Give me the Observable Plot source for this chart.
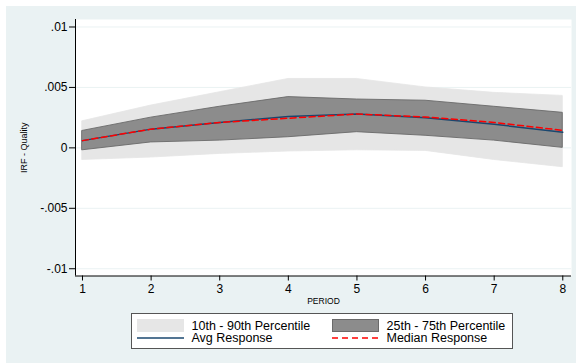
<!DOCTYPE html>
<html>
<head>
<meta charset="utf-8">
<script src="https://cdn.jsdelivr.net/npm/d3@7"></script>
<script src="https://cdn.jsdelivr.net/npm/@observablehq/plot@0.6"></script>
<style>
  html, body { margin: 0; padding: 0; background: #ffffff; }
  body { width: 576px; height: 363px; position: relative; overflow: hidden; font-family: "Liberation Sans", Arial, sans-serif; }
  #wrap { position: absolute; left: 6px; top: 6px; width: 570px; height: 357px; background: #eaf2f3; }
  #chart { position: absolute; left: 0; top: 0; }
  #legend { position: absolute; left: 125px; top: 307px; width: 380px; height: 34px; background: #fff; border: 1px solid #555; box-sizing: content-box; }
  .item { position: absolute; font-size: 12.5px; line-height: 12px; color: #000; white-space: nowrap; }
  .sw { position: absolute; }
</style>
</head>
<body>
<div id="wrap">
  <div id="chart"></div>
  <div id="legend"></div>
</div>
<script>
const periods = [1, 2, 3, 4, 5, 6, 7, 8];
const p90    = [0.0022, 0.0035, 0.0046, 0.0057, 0.0057, 0.0050, 0.00455, 0.0043];
const p75    = [0.0014, 0.0025, 0.0034, 0.0042, 0.0040, 0.0039, 0.0034, 0.0029];
const avgResp = [0.0006, 0.00155, 0.0021, 0.0026, 0.0028, 0.0025, 0.00195, 0.0013];
const medResp = [0.0006, 0.00155, 0.0021, 0.00245, 0.0028, 0.00255, 0.0021, 0.00145];
const p25    = [-0.0002, 0.00045, 0.0006, 0.00088, 0.0013, 0.0010, 0.0006, 0.0000];
const p10    = [-0.0010, -0.0008, -0.0005, -0.0003, -0.0002, -0.00025, -0.0010, -0.0016];

const yTicks = [-0.01, -0.005, 0, 0.005, 0.01];
const yTickLabels = ["-.01", "-.005", "0", ".005", ".01"];
const xTicks = [1, 2, 3, 4, 5, 6, 7, 8];
const xDomain = [0.898, 8.127];
const yDomain = [-0.0106, 0.01062];

const legendLabels = ["10th - 90th Percentile", "25th - 75th Percentile", "Avg Response", "Median Response"];

const colLight = "#e6e6e6";
const colDark = "#8c8c8c";
const colDarkEdge = "#6a6a6a";
const colAvg = "#1a476f";
const colMed = "#ff0000";

const data = periods.map((p, i) => ({
  period: p, p10: p10[i], p25: p25[i], avg: avgResp[i], med: medResp[i], p75: p75[i], p90: p90[i]
}));

const plot = Plot.plot({
  width: 570,
  height: 300,
  marginLeft: 69,
  marginRight: 5,
  marginTop: 13,
  marginBottom: 30.5,
  style: { background: "transparent", fontFamily: "Liberation Sans, Arial, sans-serif", fontSize: "12px", color: "#000" },
  x: { domain: xDomain },
  y: { domain: yDomain },
  marks: [
    Plot.frame({ fill: "#ffffff", stroke: null }),
    Plot.gridY(yTicks, { stroke: "#eaf2f3", strokeOpacity: 1, strokeWidth: 1 }),
    Plot.areaY(data, { x: "period", y1: "p10", y2: "p90", fill: colLight, stroke: colLight, strokeWidth: 0.8, curve: "linear" }),
    Plot.areaY(data, { x: "period", y1: "p25", y2: "p75", fill: colDark, stroke: colDarkEdge, strokeWidth: 0.9, curve: "linear" }),
    Plot.line(data, { x: "period", y: "avg", stroke: colAvg, strokeWidth: 1.5 }),
    Plot.line(data, { x: "period", y: "med", stroke: colMed, strokeWidth: 1.5, strokeDasharray: "6,3.5" }),
    Plot.ruleX([xDomain[0]], { stroke: "#000", strokeWidth: 1 }),
    Plot.ruleY([yDomain[0]], { stroke: "#000", strokeWidth: 1 }),
    Plot.axisY(yTicks, {
      tickSize: 6, tickPadding: 2, fontSize: 12, stroke: "#000", fill: "#000",
      tickFormat: (d) => yTickLabels[yTicks.indexOf(d)], label: null
    }),
    Plot.axisX(xTicks, {
      tickSize: 5, tickPadding: 3, fontSize: 12, stroke: "#000", fill: "#000",
      tickFormat: (d) => String(d), label: null
    }),
    Plot.text(["PERIOD"], { frameAnchor: "bottom", dy: 25, fontSize: 8.5, fill: "#000", lineAnchor: "middle" }),
    Plot.text(["IRF - Quality"], { frameAnchor: "left", dx: -51, rotate: -90, fontSize: 9, fill: "#000", textAnchor: "middle", lineAnchor: "middle" })
  ]
});
document.getElementById("chart").appendChild(plot);

// Legend (HTML, below/around SVG)
const legend = document.getElementById("legend");
const items = [
  { x: 5, y: 5, type: "fill", fill: colLight, stroke: colLight, label: legendLabels[0] },
  { x: 200, y: 5, type: "fill", fill: colDark, stroke: colDarkEdge, label: legendLabels[1] },
  { x: 5, y: 17.5, type: "line", stroke: colAvg, dash: null, label: legendLabels[2] },
  { x: 200, y: 17.5, type: "line", stroke: colMed, dash: "6,4", label: legendLabels[3] }
];
items.forEach(it => {
  const sw = document.createElementNS("http://www.w3.org/2000/svg", "svg");
  sw.setAttribute("width", 47);
  sw.setAttribute("height", 13);
  sw.setAttribute("class", "sw");
  sw.style.left = it.x + "px";
  sw.style.top = (it.type === "fill" ? it.y : it.y + 3) + "px";
  if (it.type === "fill") {
    const r = document.createElementNS("http://www.w3.org/2000/svg", "rect");
    r.setAttribute("x", 0.5); r.setAttribute("y", 0.5);
    r.setAttribute("width", 46); r.setAttribute("height", 12);
    r.setAttribute("fill", it.fill); r.setAttribute("stroke", it.stroke);
    sw.appendChild(r);
  } else {
    const l = document.createElementNS("http://www.w3.org/2000/svg", "line");
    l.setAttribute("x1", 0); l.setAttribute("x2", 47);
    l.setAttribute("y1", 3); l.setAttribute("y2", 3);
    l.setAttribute("stroke", it.stroke); l.setAttribute("stroke-width", 1.5);
    if (it.dash) l.setAttribute("stroke-dasharray", it.dash);
    sw.appendChild(l);
  }
  legend.appendChild(sw);
  const t = document.createElement("div");
  t.className = "item";
  t.style.left = (it.x + 54.5) + "px";
  t.style.top = (it.y + 0.5) + "px";
  t.textContent = it.label;
  legend.appendChild(t);
});
</script>
</body>
</html>
